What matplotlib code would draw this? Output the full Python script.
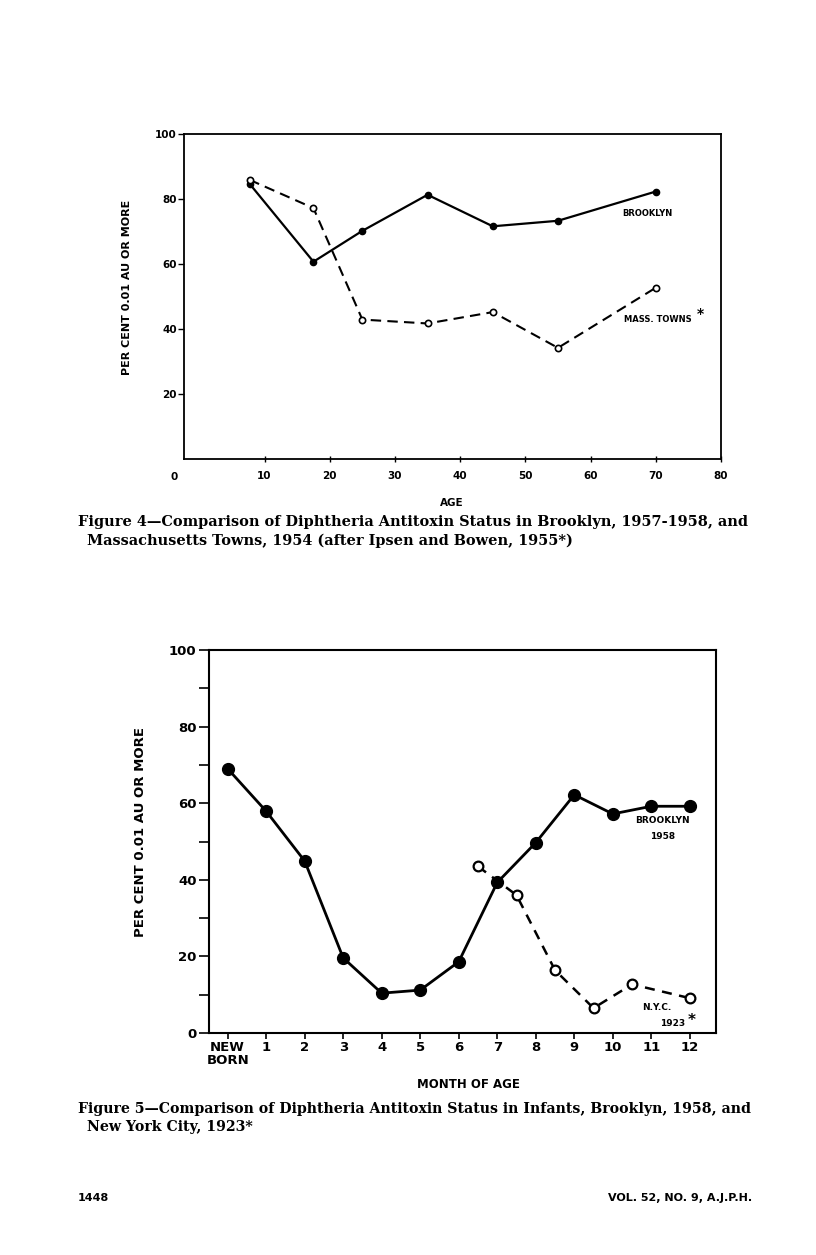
import numpy as np
import matplotlib
matplotlib.use("Agg")
import matplotlib.pyplot as plt
from matplotlib.ticker import FixedLocator

# Figure 4 data: age (years) vs per cent with 0.01 AU or more
age = [7.7, 17.5, 25, 35, 45, 55, 70]
brooklyn_age = [84.7, 60.7, 70.2, 81.3, 71.6, 73.3, 82.3]
mass_towns = [85.9, 77.2, 42.9, 41.7, 45.2, 34.2, 52.7]

# Figure 5 data: month of age (infants)
months = [0, 1, 2, 3, 4, 5, 6, 7, 8, 9, 10, 11, 12]
brooklyn_1958 = [69.0, 57.9, 44.9, 19.6, 10.4, 11.2, 18.6, 39.3, 49.7, 62.2, 57.2, 59.2, 59.2]
nyc_months = [6.5, 7.5, 8.5, 9.5, 10.5, 12]
nyc_1923 = [43.5, 36.0, 16.4, 6.5, 12.7, 9.1]
month_labels = ["NEW\nBORN", "1", "2", "3", "4", "5", "6", "7", "8", "9", "10", "11", "12"]

W, H = 816, 1255
fig = plt.figure(figsize=(W / 100, H / 100), dpi=100)

def box(l, t, r, b):
    return [l / W, 1 - b / H, (r - l) / W, (b - t) / H]

def px(x, y):
    return x / W, 1 - y / H

sans = "DejaVu Sans"
serif = "DejaVu Serif"

# ---------- Figure 4 ----------
ax1 = fig.add_axes(box(184, 134, 721, 459))
ax1.plot(age, brooklyn_age, "-", color="black", lw=1.6,
         marker="o", ms=4.5, mfc="black", mec="black")
ax1.plot(age, mass_towns, "--", color="black", lw=1.5, dashes=(5, 3),
         marker="o", ms=4.5, mfc="white", mec="black", mew=1.2)
ax1.set_xlim(-2.35, 80)
ax1.set_ylim(0, 100)
ax1.set_xticks([10, 20, 30, 40, 50, 60, 70, 80])
ax1.set_yticks([20, 40, 60, 80, 100])
ax1.tick_params(axis="x", direction="inout", length=5, width=1, pad=6, labelsize=7.5)
ax1.tick_params(axis="y", direction="out", length=4, width=1, pad=1, labelsize=7.5)
for lab in ax1.get_xticklabels() + ax1.get_yticklabels():
    lab.set_fontweight("bold")
    lab.set_family(sans)
for s in ax1.spines.values():
    s.set_linewidth(1.3)
ax1.text(-3.8, -4, "0", ha="center", va="top", fontsize=7.5, fontweight="bold", family=sans)
ax1.text(68.7, 75.4, "BROOKLYN", ha="center", va="center", fontsize=6, fontweight="bold", family=sans)
ax1.text(70.3, 42.9, "MASS. TOWNS", ha="center", va="center", fontsize=6, fontweight="bold", family=sans)
ax1.text(76.8, 44.5, "*", ha="center", va="center", fontsize=10, fontweight="bold", family=sans)

fig.text(*px(127, 287), "PER CENT 0.01 AU OR MORE", rotation=90, ha="center", va="center",
         fontsize=8, fontweight="bold", family=sans)
fig.text(*px(452, 503), "AGE", ha="center", va="center", fontsize=7.5, fontweight="bold", family=sans)
fig.text(*px(78, 522), "Figure 4\u2014Comparison of Diphtheria Antitoxin Status in Brooklyn, 1957-1958, and",
         ha="left", va="center", fontsize=10.45, fontweight="bold", family=serif)
fig.text(*px(87, 541), "Massachusetts Towns, 1954 (after Ipsen and Bowen, 1955*)",
         ha="left", va="center", fontsize=10.45, fontweight="bold", family=serif)

# ---------- Figure 5 ----------
ax2 = fig.add_axes(box(209, 650, 716, 1033))
ax2.plot(months, brooklyn_1958, "-", color="black", lw=2,
         marker="o", ms=8.5, mfc="black", mec="black")
ax2.plot(nyc_months, nyc_1923, "--", color="black", lw=1.8, dashes=(4, 3),
         marker="o", ms=7, mfc="white", mec="black", mew=1.6)
ax2.set_xlim(-0.485, 12.68)
ax2.set_ylim(0, 100)
ax2.set_xticks(months)
ax2.set_xticklabels(month_labels)
ax2.set_yticks([0, 20, 40, 60, 80, 100])
ax2.yaxis.set_minor_locator(FixedLocator([10, 30, 50, 70, 90]))
ax2.tick_params(axis="x", direction="out", length=4, width=1.2, pad=2, labelsize=9.5)
ax2.tick_params(axis="y", which="both", direction="out", length=7, width=1.2, pad=2, labelsize=9.5)
for lab in ax2.get_xticklabels() + ax2.get_yticklabels():
    lab.set_fontweight("bold")
    lab.set_family(sans)
for lab in ax2.get_xticklabels():
    lab.set_va("top")
    lab.set_linespacing(0.95)
for s in ax2.spines.values():
    s.set_linewidth(1.5)
ax2.text(11.3, 55.6, "BROOKLYN", ha="center", va="center", fontsize=6.5, fontweight="bold", family=sans)
ax2.text(11.3, 51.4, "1958", ha="center", va="center", fontsize=6.5, fontweight="bold", family=sans)
ax2.text(11.15, 6.6, "N.Y.C.", ha="center", va="center", fontsize=6.5, fontweight="bold", family=sans)
ax2.text(11.55, 2.4, "1923", ha="center", va="center", fontsize=6.5, fontweight="bold", family=sans)
ax2.text(12.05, 3.3, "*", ha="center", va="center", fontsize=11, fontweight="bold", family=sans)

fig.text(*px(140, 832), "PER CENT 0.01 AU OR MORE", rotation=90, ha="center", va="center",
         fontsize=9.5, fontweight="bold", family=sans)
fig.text(*px(468, 1084), "MONTH OF AGE", ha="center", va="center", fontsize=8.5, fontweight="bold", family=sans)
fig.text(*px(78, 1109), "Figure 5\u2014Comparison of Diphtheria Antitoxin Status in Infants, Brooklyn, 1958, and",
         ha="left", va="center", fontsize=10.2, fontweight="bold", family=serif)
fig.text(*px(87, 1127), "New York City, 1923*",
         ha="left", va="center", fontsize=10.2, fontweight="bold", family=serif)

fig.text(*px(78, 1198), "1448", ha="left", va="center", fontsize=8, fontweight="bold", family=sans)
fig.text(*px(752, 1198), "VOL. 52, NO. 9, A.J.P.H.", ha="right", va="center",
         fontsize=8, fontweight="bold", family=sans)

fig.savefig("out.png", dpi=100, facecolor="white")
